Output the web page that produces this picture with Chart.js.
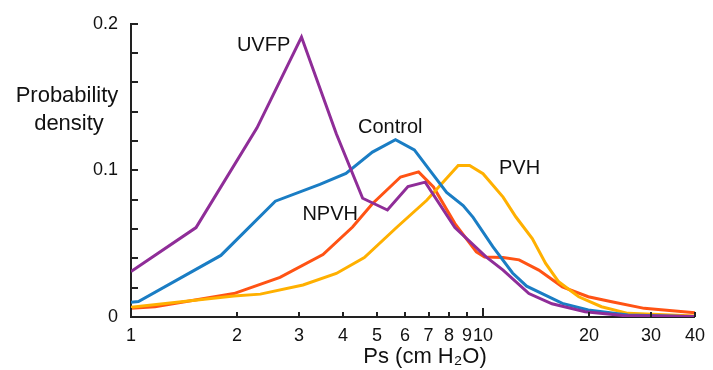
<!DOCTYPE html>
<html>
<head>
<meta charset="utf-8">
<script src="https://cdn.jsdelivr.net/npm/chart.js@4.4.1/dist/chart.umd.min.js"></script>
<style>
  html, body { margin: 0; padding: 0; background: #ffffff; }
  #wrap { width: 713px; height: 370px; position: relative; }
</style>
</head>
<body>
<div id="wrap"><canvas id="chart"></canvas></div>
<script>
// Ps values (cm H2O) and probability density
const uvfpX = [1, 1.53, 2.28, 3.05, 3.83, 4.55, 5.35, 6.12, 6.85, 8.32, 10.2, 11.4, 13.5, 15.7, 19.5, 25, 40];
const uvfpY = [0.031, 0.061, 0.129, 0.191, 0.125, 0.081, 0.073, 0.089, 0.092, 0.061, 0.041, 0.032, 0.016, 0.009, 0.0036, 0.001, 0.0003];

const controlX = [1, 1.05, 1.8, 2.57, 3.44, 4.08, 4.85, 5.64, 6.38, 7.88, 8.78, 9.37, 10.66, 12.13, 13.3, 16.8, 19.9, 25.8, 40];
const controlY = [0.01, 0.0105, 0.042, 0.079, 0.0905, 0.098, 0.1125, 0.121, 0.114, 0.085, 0.076, 0.068, 0.048, 0.03, 0.021, 0.0093, 0.0048, 0.0014, 0.0002];

const npvhX = [1, 1.17, 1.96, 2.65, 3.51, 4.26, 4.85, 5.83, 6.56, 7.23, 8.32, 9.57, 10.1, 11.4, 12.66, 14.4, 16.8, 19.9, 23.2, 28.7, 40];
const npvhY = [0.006, 0.007, 0.016, 0.027, 0.0426, 0.0614, 0.0773, 0.0955, 0.099, 0.0887, 0.0637, 0.0444, 0.041, 0.0406, 0.039, 0.032, 0.0206, 0.0138, 0.0104, 0.0059, 0.0029];

const pvhX = [1, 1.96, 2.33, 3.08, 3.83, 4.6, 5.7, 6.92, 8.5, 9.16, 10.0, 11.4, 12.4, 13.8, 15.06, 16.4, 18.7, 21.7, 25.8, 40];
const pvhY = [0.0066, 0.0143, 0.0156, 0.0218, 0.0297, 0.0406, 0.0614, 0.0796, 0.1034, 0.1034, 0.0977, 0.0818, 0.0682, 0.0535, 0.0365, 0.024, 0.0138, 0.007, 0.0025, 0.0007];

const xTicks = [1, 2, 3, 4, 5, 6, 7, 8, 9, 10, 20, 30, 40];
const xMajor = [1, 10];
const yLabelled = [0, 0.1, 0.2];

// series labels placed in data coordinates
const seriesLabels = [
    { text: 'UVFP', x: 2.38, y: 0.185 },
    { text: 'Control', x: 5.45, y: 0.129 },
    { text: 'NPVH', x: 3.68, y: 0.070 },
    { text: 'PVH', x: 12.7, y: 0.101 },
];

const fontFamily = '"Liberation Sans", Arial, Helvetica, sans-serif';
const textColor = '#111111';
const axisColor = '#222222';

const toPoints = (xs, ys) => xs.map((x, i) => ({ x, y: ys[i] }));

const line = (label, xs, ys, color) => ({
    label,
    data: toPoints(xs, ys),
    borderColor: color,
    backgroundColor: color,
    borderWidth: 3,
    pointRadius: 0,
    showLine: true,
    tension: 0,
    fill: false,
});

const isLabelled = (v) => yLabelled.some((l) => Math.abs(l - v) < 1e-6);

const decorations = {
    id: 'decorations',
    afterDraw(chart) {
        const { ctx, chartArea, scales } = chart;
        const xs = scales.x;
        const ys = scales.y;
        ctx.save();

        // inward tick marks
        ctx.strokeStyle = axisColor;
        ctx.lineWidth = 2;
        ys.ticks.forEach((t) => {
            const py = Math.round(ys.getPixelForValue(t.value));
            ctx.beginPath();
            ctx.moveTo(chartArea.left, py);
            ctx.lineTo(chartArea.left + 7, py);
            ctx.stroke();
        });
        xTicks.forEach((v) => {
            const px = Math.round(xs.getPixelForValue(v));
            const len = xMajor.includes(v) ? 9 : 5;
            ctx.beginPath();
            ctx.moveTo(px, chartArea.bottom);
            ctx.lineTo(px, chartArea.bottom - len);
            ctx.stroke();
        });

        // series labels
        ctx.fillStyle = textColor;
        ctx.font = `20px ${fontFamily}`;
        ctx.textAlign = 'center';
        ctx.textBaseline = 'middle';
        seriesLabels.forEach((l) => {
            ctx.fillText(l.text, xs.getPixelForValue(l.x), ys.getPixelForValue(l.y));
        });

        // y title, horizontal on two lines
        ctx.font = `22px ${fontFamily}`;
        ctx.fillText('Probability', 67, 96);
        ctx.fillText('density', 69, 124);

        // x title
        ctx.fillText('Ps (cm H\u2082O)', 425, 357);

        ctx.restore();
    },
};

new Chart(document.getElementById('chart'), {
    type: 'scatter',
    data: {
        datasets: [
            line('UVFP', uvfpX, uvfpY, '#8f2d98'),
            line('Control', controlX, controlY, '#1a7dc4'),
            line('PVH', pvhX, pvhY, '#ffb000'),
            line('NPVH', npvhX, npvhY, '#ff5314'),
        ],
    },
    options: {
        responsive: true,
        maintainAspectRatio: false,
        animation: false,
        layout: { padding: { left: 0, right: 12, top: 23, bottom: 0 } },
        plugins: {
            legend: { display: false },
            tooltip: { enabled: false },
        },
        scales: {
            x: {
                type: 'logarithmic',
                min: 1,
                max: 40,
                afterBuildTicks: (scale) => {
                    scale.ticks = xTicks.map((v) => ({ value: v }));
                },
                afterFit: (scale) => {
                    scale.height = 53;
                },
                ticks: {
                    autoSkip: false,
                    maxRotation: 0,
                    padding: 8,
                    color: textColor,
                    font: { family: fontFamily, size: 18 },
                    callback: (value) => String(value),
                },
                grid: { display: false, drawTicks: false },
                border: { display: true, color: axisColor, width: 2 },
            },
            y: {
                min: 0,
                max: 0.2,
                afterFit: (scale) => {
                    scale.width = 131;
                },
                ticks: {
                    stepSize: 0.02,
                    autoSkip: false,
                    padding: 13,
                    color: textColor,
                    font: { family: fontFamily, size: 18 },
                    callback: (value) => (isLabelled(value) ? String(Math.round(value * 10) / 10) : ''),
                },
                grid: { display: false, drawTicks: false },
                border: { display: true, color: axisColor, width: 2 },
            },
        },
    },
    plugins: [decorations],
});
</script>
</body>
</html>
